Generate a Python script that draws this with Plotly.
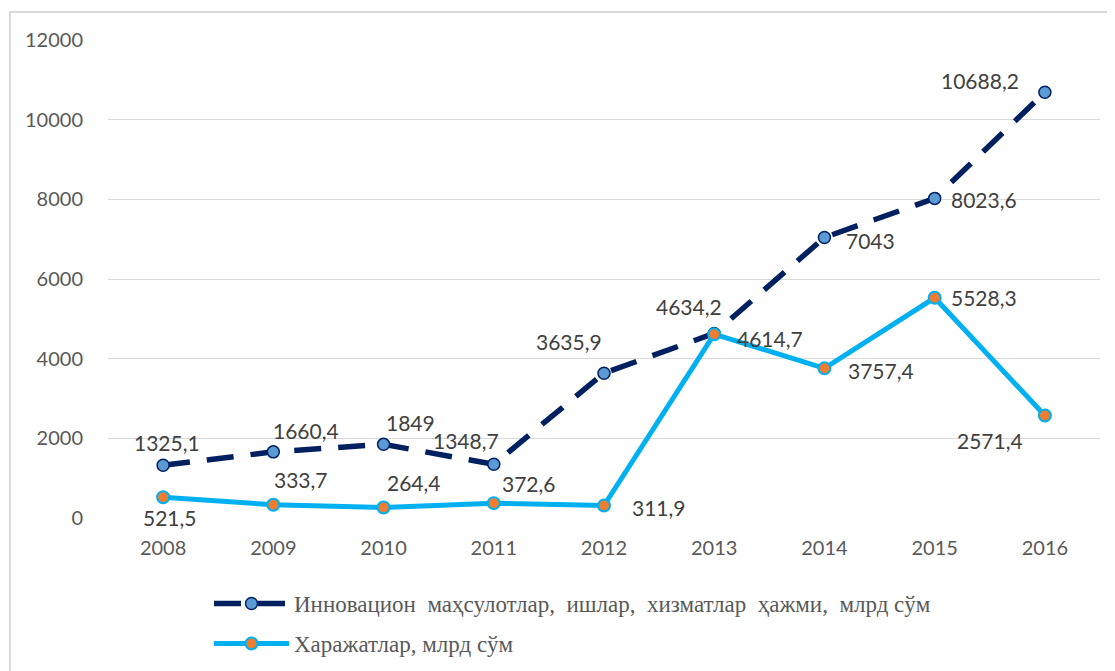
import plotly.graph_objects as go

years = ["2008", "2009", "2010", "2011", "2012", "2013", "2014", "2015", "2016"]
innov = [1325.1, 1660.4, 1849, 1348.7, 3635.9, 4634.2, 7043, 8023.6, 10688.2]
costs = [521.5, 333.7, 264.4, 372.6, 311.9, 4614.7, 3757.4, 5528.3, 2571.4]
name_innov = "Инновацион  маҳсулотлар,  ишлар,  хизматлар  ҳажми,  млрд сўм"
name_costs = "Харажатлар, млрд сўм"
y_ticks = [0, 2000, 4000, 6000, 8000, 10000, 12000]

# label offsets (px) relative to each point
innov_shift = [(4, 23), (33, 21), (27, 22), (-28, 24), (-35, 32), (-25, 27), (46, -3), (49, -1), (-65, 12)]
costs_shift = [(7, -20), (28, 25), (30, 25), (35, 20), (55, -2), (56, -4), (57, -2), (49, 0), (-55, -25)]


def fmt(v):
    if float(v).is_integer():
        return str(int(v))
    return ("%g" % v).replace(".", ",")


fig = go.Figure()
fig.add_trace(go.Scatter(
    x=years, y=innov, name=name_innov, mode="lines+markers",
    line=dict(color="#002060", width=5.5, dash="27px,17px"),
    marker=dict(size=12, color="#5B9BD5", line=dict(color="#002060", width=1.5)),
    legend="legend",
))
fig.add_trace(go.Scatter(
    x=years, y=costs, name=name_costs, mode="lines+markers",
    line=dict(color="#00B0F0", width=5),
    marker=dict(size=12, color="#ED7D31", line=dict(color="#00B0F0", width=2)),
    legend="legend2",
))

annots = []
for vals, shifts in ((innov, innov_shift), (costs, costs_shift)):
    for i, (v, (dx, dy)) in enumerate(zip(vals, shifts)):
        annots.append(dict(x=i, y=v, xref="x", yref="y", text=fmt(v), showarrow=False,
                           xshift=dx, yshift=dy,
                           font=dict(family="Lato", size=21, color="#404040")))

# page coordinates (the page body adds an 8px offset)
OFF = 8
PL, PR, PT, PB = 108, 1100, 40, 518
W, H = 1115 - OFF, 671 - OFF
L, T = PL - OFF, PT - OFF
R, B = W - (PR - OFF), H - (PB - OFF)
pw, ph = PR - PL, PB - PT


def px_x(x):
    return (x - PL) / pw


def px_y(y):
    return (PB - y) / ph


fig.update_layout(
    width=W, height=H,
    margin=dict(l=L, r=R, t=T, b=B, autoexpand=False),
    paper_bgcolor="white", plot_bgcolor="white",
    annotations=annots,
    xaxis=dict(type="category", categoryorder="array", categoryarray=years,
               range=[-0.5, len(years) - 0.5], showgrid=False, zeroline=False, showline=False,
               tickfont=dict(family="Lato", size=20, color="#595959"),
               ticks="", ticklabelstandoff=16),
    yaxis=dict(range=[0, 12000], tickvals=y_ticks, tickformat="d", showgrid=True,
               gridcolor="#D9D9D9", gridwidth=1.3, zeroline=False, showline=False,
               tickfont=dict(family="Lato", size=20, color="#595959"),
               ticks="", ticklabelstandoff=24),
    legend=dict(x=px_x(209), y=px_y(582), xanchor="left", yanchor="top",
                font=dict(family="Liberation Serif", size=23, color="#595959"),
                itemwidth=75, bgcolor="rgba(0,0,0,0)"),
    legend2=dict(x=px_x(209), y=px_y(622), xanchor="left", yanchor="top",
                 font=dict(family="Liberation Serif", size=23, color="#595959"),
                 itemwidth=75, bgcolor="rgba(0,0,0,0)"),
    shapes=[dict(type="rect", xref="paper", yref="paper",
                 x0=px_x(10), x1=px_x(1140), y0=px_y(700), y1=px_y(12),
                 line=dict(color="#D9D9D9", width=2), layer="below")],
    showlegend=True,
)

fig.write_html("out.html")
